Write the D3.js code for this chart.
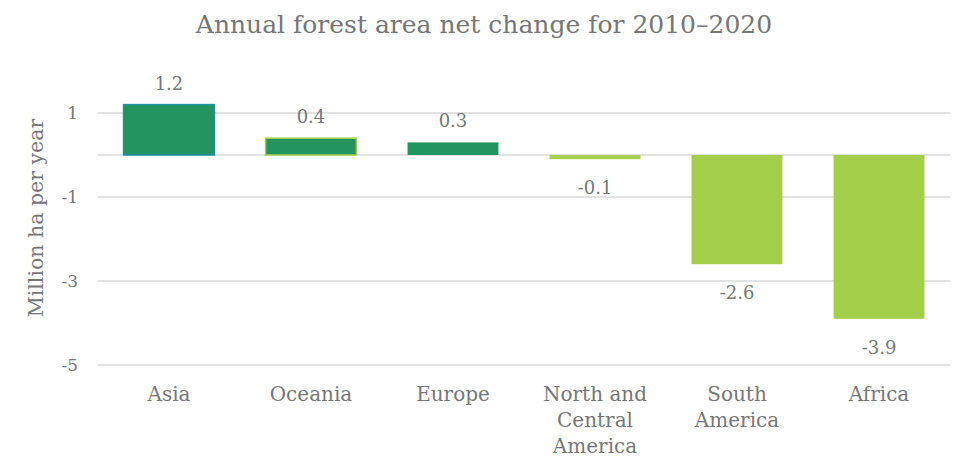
<!DOCTYPE html>
<html>
<head>
<meta charset="utf-8">
<script src="https://cdn.jsdelivr.net/npm/d3@7"></script>
<style>
  html, body { margin: 0; padding: 0; background: #fff; }
  svg text { font-family: "DejaVu Serif", "Liberation Serif", serif; fill: #767676; }
</style>
</head>
<body>
<svg id="chart" width="959" height="459"></svg>
<script>
// Annual forest area net change by region, 2010–2020 (million ha per year)
const regions = ["Asia", "Oceania", "Europe", "North and Central America", "South America", "Africa"];
const regionLines = [["Asia"], ["Oceania"], ["Europe"], ["North and", "Central", "America"], ["South", "America"], ["Africa"]];
const netChange = [1.2, 0.4, 0.3, -0.1, -2.6, -3.9];
const yTicks = [1, -1, -3, -5];
const titleText = "Annual forest area net change for 2010\u20132020";
const yTitle = "Million ha per year";

const svg = d3.select("#chart");
const margin = { left: 98, right: 9 };
const W = 959;

const x = d3.scaleBand()
  .domain(regions)
  .range([margin.left, W - margin.right])
  .paddingInner(0.36)
  .paddingOuter(0.18);

const y = d3.scaleLinear()
  .domain([-5, 1])
  .range([365, 113]);

const darkGreen = "#229460";
const lightGreen = "#a4cf4a";

// plain hyphen for negatives
const fmtInt = d => String(d);
const fmtOne = d => (d < 0 ? "-" : "") + Math.abs(d).toFixed(1);

// gridlines at the odd ticks, plus the zero baseline
svg.append("g").selectAll("line")
  .data(yTicks.concat([0]))
  .join("line")
  .attr("x1", margin.left)
  .attr("x2", W - margin.right)
  .attr("y1", d => y(d))
  .attr("y2", d => y(d))
  .attr("stroke", "#d9d9d9")
  .attr("stroke-width", 1.3);

// y axis labels
const yAxis = d3.axisLeft(y).tickValues(yTicks).tickSize(0).tickPadding(0).tickFormat(fmtInt);
const yg = svg.append("g")
  .attr("transform", `translate(${margin.left - 20},0)`)
  .call(yAxis);
yg.select(".domain").remove();
yg.selectAll("text")
  .attr("font-size", 17)
  .attr("fill", "#767676")
  .style("font-family", "'DejaVu Serif', serif");

// axis title
svg.append("text")
  .attr("transform", `translate(43,${y(-1.5)}) rotate(-90)`)
  .attr("text-anchor", "middle")
  .attr("font-size", 20.5)
  .text(yTitle);

// bars
const strokeFor = i => i === 0 ? "#1f8fa3" : (i === 1 ? lightGreen : "none");
svg.append("g").selectAll("rect")
  .data(netChange)
  .join("rect")
  .attr("x", (d, i) => x(regions[i]))
  .attr("width", x.bandwidth())
  .attr("y", d => y(Math.max(0, d)))
  .attr("height", d => Math.abs(y(d) - y(0)))
  .attr("fill", d => d > 0 ? darkGreen : lightGreen)
  .attr("stroke", (d, i) => strokeFor(i))
  .attr("stroke-width", 1.5);

// value labels
svg.append("g").selectAll("text")
  .data(netChange)
  .join("text")
  .attr("x", (d, i) => x(regions[i]) + x.bandwidth() / 2)
  .attr("y", d => d >= 0 ? y(d) - 15 : y(d) + 35)
  .attr("text-anchor", "middle")
  .attr("font-size", 18)
  .text(fmtOne);

// category labels
const cat = svg.append("g").selectAll("text")
  .data(regions)
  .join("text")
  .attr("text-anchor", "middle")
  .attr("font-size", 20)
  .attr("transform", d => `translate(${x(d) + x.bandwidth() / 2},401)`);
cat.selectAll("tspan")
  .data((d, i) => regionLines[i])
  .join("tspan")
  .attr("x", 0)
  .attr("dy", (d, j) => j === 0 ? 0 : 26)
  .text(d => d);

// title
svg.append("text")
  .attr("x", 484)
  .attr("y", 33)
  .attr("text-anchor", "middle")
  .attr("font-size", 25)
  .text(titleText);
</script>
</body>
</html>
